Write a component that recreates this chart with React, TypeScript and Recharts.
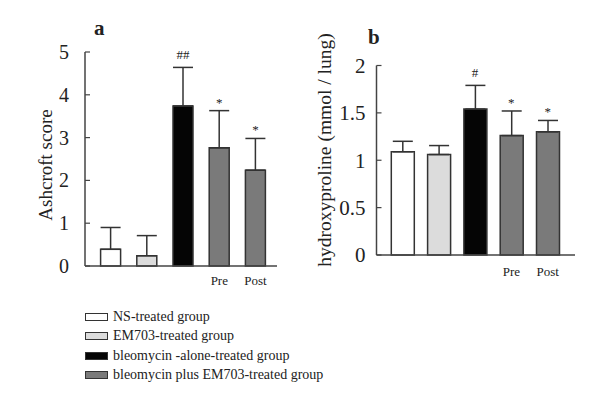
import React from 'react';
import { ComposedChart, Bar, XAxis, YAxis, ErrorBar, Cell, Scatter, Label } from 'recharts';

const categories = ['NS', 'EM703', 'Bleomycin', 'Pre', 'Post'];
const tickLabels = ['', '', '', 'Pre', 'Post'];
const barGroup = [0, 1, 2, 3, 3];

const ashcroftMeans = [0.39, 0.24, 3.74, 2.76, 2.24];
const ashcroftErrors = [0.51, 0.47, 0.9, 0.87, 0.74];
const ashcroftMarks = ['', '', '##', '*', '*'];
const ashcroftTicks = [0, 1, 2, 3, 4, 5];

const hypMeans = [1.09, 1.06, 1.54, 1.26, 1.3];
const hypErrors = [0.11, 0.095, 0.25, 0.26, 0.12];
const hypMarks = ['', '', '#', '*', '*'];
const hypTicks = [0, 0.5, 1, 1.5, 2];

const groupNames = [
  'NS-treated group',
  'EM703-treated group',
  'bleomycin -alone-treated group',
  'bleomycin plus EM703-treated group',
];
const groupColors = ['#ffffff', '#dcdcdc', '#050505', '#7a7a7a'];

const FONT = '"Liberation Serif", "Times New Roman", serif';
const INK = '#222';
const AXIS = '#444';

const buildRows = (means: number[], errs: number[], marks: string[]) =>
  categories.map((c, i) => ({
    cat: c,
    mean: means[i],
    err: [0, errs[i]],
    top: means[i] + errs[i],
    mark: marks[i],
  }));

const ashRows = buildRows(ashcroftMeans, ashcroftErrors, ashcroftMarks);
const hypRows = buildRows(hypMeans, hypErrors, hypMarks);

const makeYTick = (fontSize: number, margin: number) => (props: any) => {
  const { x, y, payload } = props;
  const ax = x + margin;
  return (
    <g>
      <line x1={ax} x2={ax + 5} y1={y} y2={y} stroke={AXIS} strokeWidth={1.2} />
      <text x={x} y={y} dy="0.35em" textAnchor="end" fontSize={fontSize} fontFamily={FONT} fill={INK}>
        {String(payload.value)}
      </text>
    </g>
  );
};

const MarkShape = (props: any) => {
  const { cx, cy, payload } = props;
  if (!payload || !payload.mark) return <g />;
  const isHash = payload.mark.indexOf('#') >= 0;
  return (
    <text x={cx} y={cy - (isHash ? 8 : 4)} textAnchor="middle" fontSize={13} fontFamily={FONT} fill={INK}>
      {payload.mark}
    </text>
  );
};

const axisTitle = (text: string, cx: number, cy: number, fontSize: number) => () => (
  <text
    x={cx}
    y={cy}
    transform={`rotate(-90, ${cx}, ${cy})`}
    textAnchor="middle"
    dominantBaseline="central"
    fontSize={fontSize}
    fontFamily={FONT}
    fill={INK}
  >
    {text}
  </text>
);

export default function App() {
  return (
    <div style={{ position: 'absolute', left: 0, top: 0, width: 600, height: 415, background: '#fff' }}>
      <div style={{ position: 'absolute', left: 0, top: 0 }}>
        <ComposedChart width={300} height={300} data={ashRows} margin={{ top: 52, right: 23, bottom: 0, left: 0 }}>
          <XAxis
            dataKey="cat"
            height={34}
            interval={0}
            tickLine={false}
            tickSize={0}
            tickMargin={10}
            axisLine={{ stroke: AXIS, strokeWidth: 1.5 }}
            padding={{ left: 7.6, right: 3.4 }}
            tickFormatter={(_v: any, i: number) => tickLabels[i]}
            tick={{ fontSize: 13, fontFamily: FONT, fill: INK }}
          />
          <YAxis
            width={85}
            domain={[0, 5]}
            ticks={ashcroftTicks}
            interval={0}
            tickLine={false}
            tickSize={0}
            tickMargin={16}
            axisLine={{ stroke: AXIS, strokeWidth: 1.5 }}
            tick={makeYTick(20, 16)}
          >
            <Label content={axisTitle('Ashcroft score', 45, 165, 19)} />
          </YAxis>
          <Bar dataKey="mean" barSize={20} stroke="#333" strokeWidth={1.5} isAnimationActive={false}>
            {ashRows.map((r, i) => (
              <Cell key={r.cat} fill={groupColors[barGroup[i]]} />
            ))}
            <ErrorBar dataKey="err" width={10} stroke="#333" strokeWidth={1.5} direction="y" />
          </Bar>
          <Scatter dataKey="top" shape={MarkShape} isAnimationActive={false} />
        </ComposedChart>
      </div>
      <div style={{ position: 'absolute', left: 300, top: 0 }}>
        <ComposedChart width={300} height={300} data={hypRows} margin={{ top: 65.5, right: 25, bottom: 0, left: 0 }}>
          <XAxis
            dataKey="cat"
            height={45}
            interval={0}
            tickLine={false}
            tickSize={0}
            tickMargin={12}
            axisLine={{ stroke: AXIS, strokeWidth: 1.5 }}
            padding={{ left: 7.8, right: 9.2 }}
            tickFormatter={(_v: any, i: number) => tickLabels[i]}
            tick={{ fontSize: 13, fontFamily: FONT, fill: INK }}
          />
          <YAxis
            width={76.5}
            domain={[0, 2]}
            ticks={hypTicks}
            interval={0}
            tickLine={false}
            tickSize={0}
            tickMargin={11}
            axisLine={{ stroke: AXIS, strokeWidth: 1.5 }}
            tick={makeYTick(21, 11)}
          >
            <Label content={axisTitle('hydroxyproline (mmol / lung)', 24, 150, 19.5)} />
          </YAxis>
          <Bar dataKey="mean" barSize={23} stroke="#333" strokeWidth={1.5} isAnimationActive={false}>
            {hypRows.map((r, i) => (
              <Cell key={r.cat} fill={groupColors[barGroup[i]]} />
            ))}
            <ErrorBar dataKey="err" width={10} stroke="#333" strokeWidth={1.5} direction="y" />
          </Bar>
          <Scatter dataKey="top" shape={MarkShape} isAnimationActive={false} />
        </ComposedChart>
      </div>
      <div style={{ position: 'absolute', left: 94, top: 16, fontFamily: FONT, fontWeight: 'bold', fontSize: 21, color: INK, lineHeight: '24px' }}>a</div>
      <div style={{ position: 'absolute', left: 368, top: 25, fontFamily: FONT, fontWeight: 'bold', fontSize: 21, color: INK, lineHeight: '24px' }}>b</div>
      <div style={{ position: 'absolute', left: 85, top: 307, fontFamily: FONT, fontSize: 14, color: INK }}>
        {groupNames.map((n, i) => (
          <div key={n} style={{ display: 'flex', alignItems: 'center', height: 19.5 }}>
            <div
              style={{
                width: 21,
                height: 6,
                background: groupColors[i],
                border: '1.2px solid #333',
                marginRight: 5,
              }}
            />
            <span>{n}</span>
          </div>
        ))}
      </div>
    </div>
  );
}
